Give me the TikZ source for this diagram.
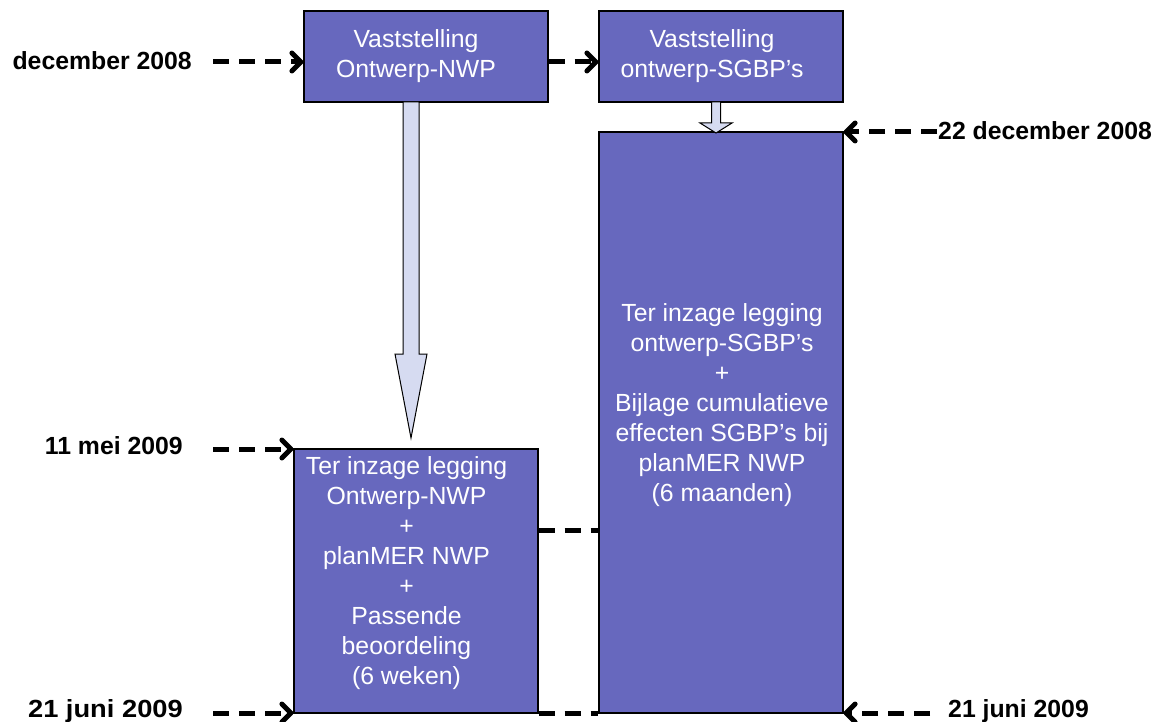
\documentclass[tikz,border=0pt]{standalone}
\usepackage{fontspec}
\setmainfont{Liberation Sans}
\usetikzlibrary{arrows.meta}
\definecolor{boxblue}{RGB}{103,104,190}
\definecolor{arrowfill}{RGB}{214,219,241}
\tikzset{
  box/.style={draw=black, line width=1.2pt, fill=boxblue, minimum width=244pt, inner sep=0pt},
  txt/.style={text=white, align=center, font=\fontsize{24.8}{30}\selectfont, inner sep=0pt},
  lbl/.style={text=black, font=\fontsize{24.8}{30}\selectfont\bfseries, inner sep=0pt},
  dline/.style={draw=black, line width=5pt, dash pattern=on 16pt off 10pt},
  darrow/.style={dline, -{Straight Barb[length=9pt,width=18pt,line cap=round,line join=round]}},
  blockarrow/.style={draw=black, line width=1pt, fill=arrowfill, line join=miter}
}
\begin{document}
\begin{tikzpicture}[x=1pt,y=-1pt]
\useasboundingbox (0,0) rectangle (1166,722);
% boxes
\node[box, minimum height=91pt] (A) at (426,56.5) {};
\node[box, minimum height=91pt] (B) at (721,56.5) {};
\node[box, minimum height=581pt] (C) at (721,422.5) {};
\node[box, minimum height=264pt] (D) at (416,581) {};
% texts
\node[txt] (At) at (416,56) {Vaststelling\\Ontwerp-NWP};
\node[txt] (Bt) at (712,56) {Vaststelling\\ontwerp-SGBP’s};
\node[txt] (Ct) at (722,405) {Ter inzage legging\\ontwerp-SGBP’s\\+\\Bijlage cumulatieve\\effecten SGBP’s bij\\planMER NWP\\(6 maanden)};
\node[txt] (Dt) at (406.5,573) {Ter inzage legging\\Ontwerp-NWP\\+\\planMER NWP\\+\\Passende\\beoordeling\\(6 weken)};
% block arrows
\draw[blockarrow] (403,102) -- (419,102) -- (419,354) -- (427,354) -- (411,438) -- (395,354) -- (403,354) -- cycle;
\draw[blockarrow] (711.5,102) -- (720.5,102) -- (720.5,123) -- (732,123) -- (716,133) -- (700,123) -- (711.5,123) -- cycle;
% labels
\node[lbl, anchor=east] (L1) at (192,61) {december 2008};
\node[lbl, anchor=east] (L2) at (183,446) {11 mei 2009};
\node[lbl, anchor=east, xscale=1.1] (L3) at (183,711) {21 juni 2009};
\node[lbl, anchor=west] (R1) at (938,131) {22 december 2008};
\node[lbl, anchor=west] (R2) at (948,711) {21 juni 2009};
% free ends
\coordinate (s1) at (213,62);
\coordinate (s2) at (213,449);
\coordinate (s3) at (213,713);
\coordinate (e1) at (937,132);
\coordinate (e2) at (930,713);
\coordinate (m) at (0,530);
% dashed arrows
\draw[darrow] (s1) -- (A.west |- s1);
\draw[darrow] (A.east |- s1) -- (B.west |- s1);
\draw[darrow] (s2) -- (D.west |- s2);
\draw[darrow] (s3) -- (D.west |- s3);
\draw[darrow] (e1) -- (C.east |- e1);
\draw[darrow] (e2) -- (C.east |- e2);
\draw[dline] (D.east |- m) -- (C.west |- m);
\draw[dline] (D.south east) -- (C.south west);
\end{tikzpicture}
\end{document}
